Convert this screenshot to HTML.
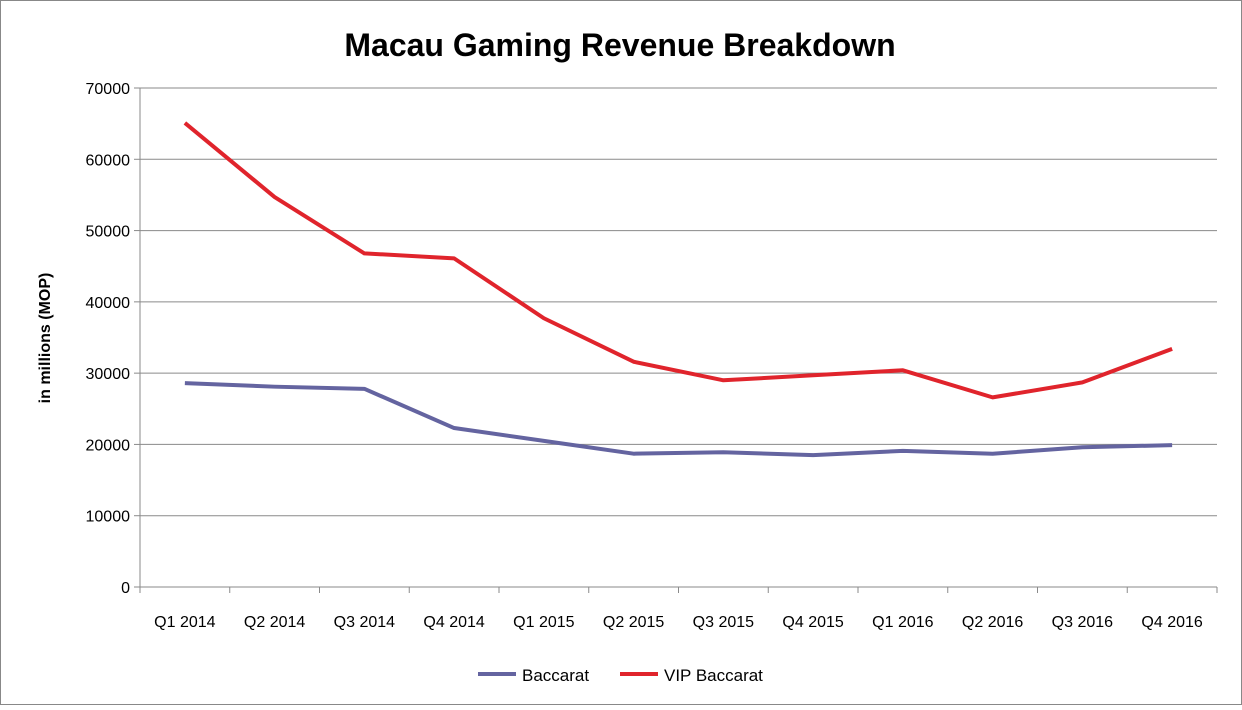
<!DOCTYPE html>
<html><head><meta charset="utf-8"><style>
body{margin:0;background:#fff;}
svg text{font-family:"Liberation Sans",sans-serif;fill:#000;}
</style></head><body>
<svg id="chart" width="1242" height="705" xmlns="http://www.w3.org/2000/svg">
<rect x="0.5" y="0.5" width="1241" height="704" fill="#fff" stroke="#888"/>
<text x="620" y="56" text-anchor="middle" font-size="32" font-weight="bold">Macau Gaming Revenue Breakdown</text>
<text transform="translate(50,338) rotate(-90)" text-anchor="middle" font-size="16" font-weight="bold">in millions (MOP)</text>
<g id="grid"></g><g id="axes"></g><g id="series"></g>
<g>
<line x1="478" y1="674" x2="516" y2="674" stroke="#6464a0" stroke-width="4"/>
<text x="522" y="681" font-size="17">Baccarat</text>
<line x1="620" y1="674" x2="658" y2="674" stroke="#e0242c" stroke-width="4"/>
<text x="664" y="681" font-size="17">VIP Baccarat</text>
</g>
</svg>
<script>
const categories=["Q1 2014","Q2 2014","Q3 2014","Q4 2014","Q1 2015","Q2 2015","Q3 2015","Q4 2015","Q1 2016","Q2 2016","Q3 2016","Q4 2016"];
const baccarat=[28600,28100,27800,22300,20500,18700,18900,18500,19100,18700,19600,19900];
const vipBaccarat=[65100,54700,46800,46100,37700,31600,29000,29700,30400,26600,28700,33400];
const yTicks=[0,10000,20000,30000,40000,50000,60000,70000];
const NS="http://www.w3.org/2000/svg";
const L=140,R=1217,T=88,B=587,yMax=70000;
const bw=(R-L)/categories.length;
const x=i=>L+bw*(i+0.5);
const y=v=>B-(v/yMax)*(B-T);
function mk(tag,attrs,parent){const e=document.createElementNS(NS,tag);for(const k in attrs)e.setAttribute(k,attrs[k]);document.getElementById(parent).appendChild(e);return e;}
yTicks.forEach(t=>{
 const g=mk("line",{x1:L,x2:R,y1:y(t),y2:y(t),stroke:"#8a8a8a","stroke-width":1},"grid");
 
 
 mk("line",{x1:L-6,x2:L,y1:y(t),y2:y(t),stroke:"#8a8a8a"},"axes");
 const tx=mk("text",{x:L-10,y:y(t)+6,"text-anchor":"end","font-size":"16"},"axes");
 tx.textContent=t;
 
 
});
mk("line",{x1:L,x2:L,y1:T,y2:B,stroke:"#8a8a8a"},"axes");
categories.forEach((c,i)=>{
 mk("line",{x1:L+bw*i,x2:L+bw*i,y1:B,y2:B+6,stroke:"#8a8a8a"},"axes");
 const tx=mk("text",{x:x(i),y:B+40,"text-anchor":"middle","font-size":"16"},"axes");
 tx.textContent=c;
 
 
});
mk("line",{x1:R,x2:R,y1:B,y2:B+6,stroke:"#8a8a8a"},"axes");
function line(data,color,name){
 const p=mk("polyline",{points:data.map((v,i)=>x(i)+","+y(v)).join(" "),fill:"none",stroke:color,"stroke-width":4,"stroke-linejoin":"round"},"series");
 
 
}
line(baccarat,"#6464a0","baccarat-line");
line(vipBaccarat,"#e0242c","vip-baccarat-line");
</script>
</body></html>
